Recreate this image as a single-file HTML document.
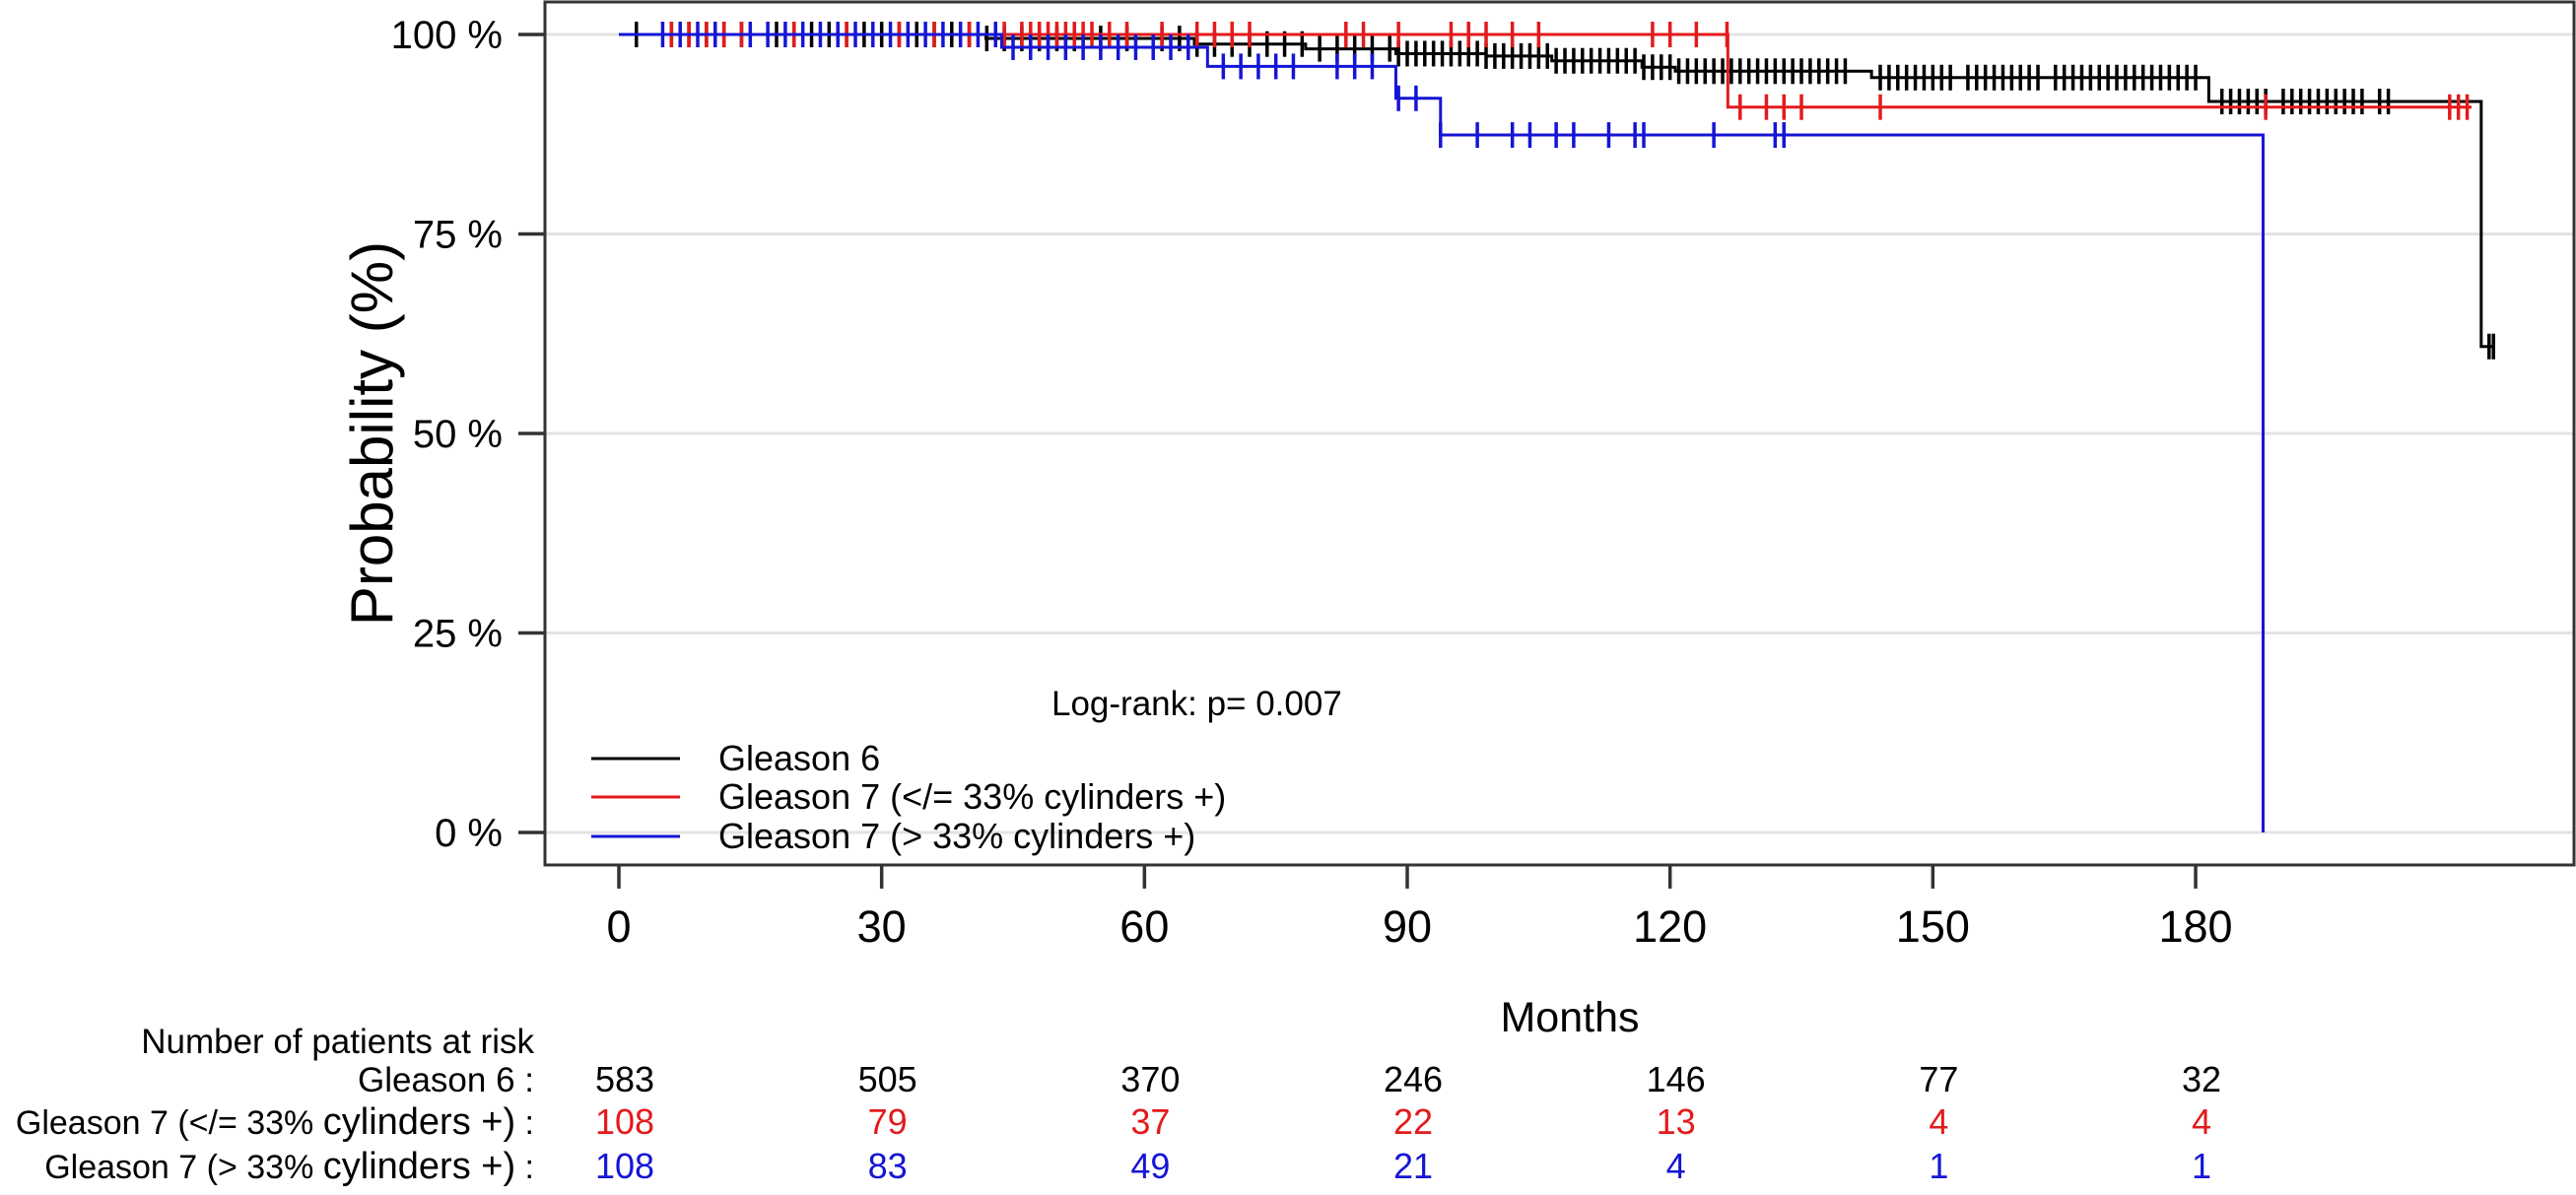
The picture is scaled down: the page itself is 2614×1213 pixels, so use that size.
<!DOCTYPE html>
<html><head><meta charset="utf-8"><style>
html,body{margin:0;padding:0;background:#fff;}
svg{display:block;font-family:"Liberation Sans",Arial,sans-serif;}
</style></head><body>
<svg id="chart" width="2614" height="1213" viewBox="0 0 2614 1213" xmlns="http://www.w3.org/2000/svg">
<g id="grid"></g>
<g id="curves"></g>
<rect x="553" y="2" width="2059" height="876" fill="none" stroke="#333" stroke-width="3"/>
<g id="axes"></g>
<text x="0" y="0" transform="translate(398,440) rotate(-90)" text-anchor="middle" font-size="60">Probability (%)</text>
<text x="1593" y="1047" text-anchor="middle" font-size="43">Months</text>
<text x="1067" y="726" font-size="35">Log-rank: p= 0.007</text>
<g font-size="36">
<line x1="600" y1="770" x2="690" y2="770" stroke="#000" stroke-width="3"/>
<text x="729" y="782">Gleason 6</text>
<line x1="600" y1="809" x2="690" y2="809" stroke="#e41a1c" stroke-width="3"/>
<text x="729" y="821">Gleason 7 (&lt;/= 33% cylinders +)</text>
<line x1="600" y1="849" x2="690" y2="849" stroke="#1515d6" stroke-width="3"/>
<text x="729" y="861">Gleason 7 (&gt; 33% cylinders +)</text>
</g>
<g id="risk" font-size="34">
<text x="542" y="1069" text-anchor="end" font-size="35">Number of patients at risk</text>
<text x="542" y="1108" text-anchor="end" font-size="35">Gleason 6 :</text>
<text x="542" y="1151" text-anchor="end">Gleason 7 (&lt;/= 33% <tspan font-size="38">cylinders +)</tspan> :</text>
<text x="542" y="1196" text-anchor="end">Gleason 7 (&gt; 33% <tspan font-size="38">cylinders +)</tspan> :</text>
</g>
</svg>
<script>
const xTicks=[0,30,60,90,120,150,180];
const yTicks=[0,25,50,75,100];
const yTickLabels=["0 %","25 %","50 %","75 %","100 %"];
const riskG6=[583,505,370,246,146,77,32];
const riskG7Low=[108,79,37,22,13,4,4];
const riskG7High=[108,83,49,21,4,1,1];
const g6Times=[0,41.9,65.7,78.4,88.7,99,106.5,116.8,120.6,143,181.5,212.6];
const g6Surv=[100,99.5,98.8,98.2,97.6,97.3,96.7,95.9,95.4,94.6,91.6,60.9];
const g6End=214;
const g7LowTimes=[0,126.6];
const g7LowSurv=[100,90.9];
const g7LowEnd=211.5;
const g7HighTimes=[0,43.7,67.2,88.7,93.8,187.7];
const g7HighSurv=[100,98.4,96,92,87.4,0];
const g7HighEnd=187.7;
const g6Cens=[2,6,8,10,12,14,18,20,22,24,26,28,30,32,34,36,38,40,42,44,46,48,50,52,55,58,62,64,66,68,70,72,74,76,78,80,82,84,86,88,89,90,91,92,93,94,95,96,97,98,99,100,101,102,103,104,105,106,107,108,109,110,111,112,113,114,115,116,117,118,119,120,121,122,123,124,125,126,127,128,129,130,131,132,133,134,135,136,137,138,139,140,144,145,146,147,148,149,150,151,152,154,155,156,157,158,159,160,161,162,164,165,166,167,168,169,170,171,172,173,174,175,176,177,178,179,180,183,184,185,186,187,188,190,191,192,193,194,195,196,197,198,199,201,202,213.5,214];
const g7LowCens=[6,8,10,12,14,20,26,32,36,40,44,46,47,48,49,50,51,52,53,54,56,58,62,66,68,70,72,83,85,89,95,97,99,102,105,118,120,123,126.5,128,131,133,135,144,188,209,210,211];
const g7HighCens=[5,7,9,11,15,17,19,21,23,25,27,29,31,33,35,37,39,41,43,45,47,49,51,53,55,57,59,61,63,65,69,71,73,75,77,82,84,86,89,91,93.8,98,102,104,107,109,113,116,117,125,132,133];

const NS="http://www.w3.org/2000/svg";
function X(m){return 628+8.889*m;}
function Y(p){return 845-8.1*p;}
function el(tag,attrs,parent){const e=document.createElementNS(NS,tag);for(const k in attrs)e.setAttribute(k,attrs[k]);parent.appendChild(e);return e;}
const grid=document.getElementById('grid'),axes=document.getElementById('axes'),curves=document.getElementById('curves'),risk=document.getElementById('risk');
yTicks.forEach((v,i)=>{
  const g=el('line',{x1:553,x2:2612,y1:Y(v),y2:Y(v),stroke:'#e3e3e3','stroke-width':3},grid);
  
  
  const t=el('line',{x1:526,x2:553,y1:Y(v),y2:Y(v),stroke:'#333','stroke-width':3.5},axes);
  
  
  const l=el('text',{x:510,y:Y(v)+14,'text-anchor':'end','font-size':40},axes);
  l.textContent=yTickLabels[i];
  
  
});
xTicks.forEach(v=>{
  const t=el('line',{x1:X(v),x2:X(v),y1:878,y2:902,stroke:'#333','stroke-width':3.5},axes);
  
  
  const l=el('text',{x:X(v),y:956,'text-anchor':'middle','font-size':45},axes);
  l.textContent=v;
  
  
});
function stepPath(times,surv,end){
  let d='M'+X(times[0])+','+Y(surv[0]);
  for(let i=1;i<times.length;i++){d+=' H'+X(times[i])+' V'+Y(surv[i]);}
  d+=' H'+X(end);return d;
}
function survAt(times,surv,t){let s=surv[0];for(let i=0;i<times.length;i++){if(times[i]<=t)s=surv[i];}return s;}
function drawGroup(name,times,surv,end,cens,color){
  const p=el('path',{d:stepPath(times,surv,end),fill:'none',stroke:color,'stroke-width':3},curves);
  
  
  cens.forEach(c=>{
    const y=Y(survAt(times,surv,c));
    const m=el('line',{x1:X(c),x2:X(c),y1:y-13,y2:y+13,stroke:color,'stroke-width':3.5},curves);
    
    
  });
}
drawGroup('gleason6',g6Times,g6Surv,g6End,g6Cens,'#000');
drawGroup('gleason7-low',g7LowTimes,g7LowSurv,g7LowEnd,g7LowCens,'#e41a1c');
drawGroup('gleason7-high',g7HighTimes,g7HighSurv,g7HighEnd,g7HighCens,'#1515d6');
[[riskG6,1108,'#000','gleason6'],[riskG7Low,1151,'#e41a1c','gleason7-low'],[riskG7High,1196,'#1515d6','gleason7-high']].forEach(r=>{
  r[0].forEach((v,i)=>{
    const t=el('text',{x:X(xTicks[i])+6,y:r[1],'text-anchor':'middle',fill:r[2],'font-size':36},risk);
    t.textContent=v;
    
    
  });
});
</script>
</body></html>
